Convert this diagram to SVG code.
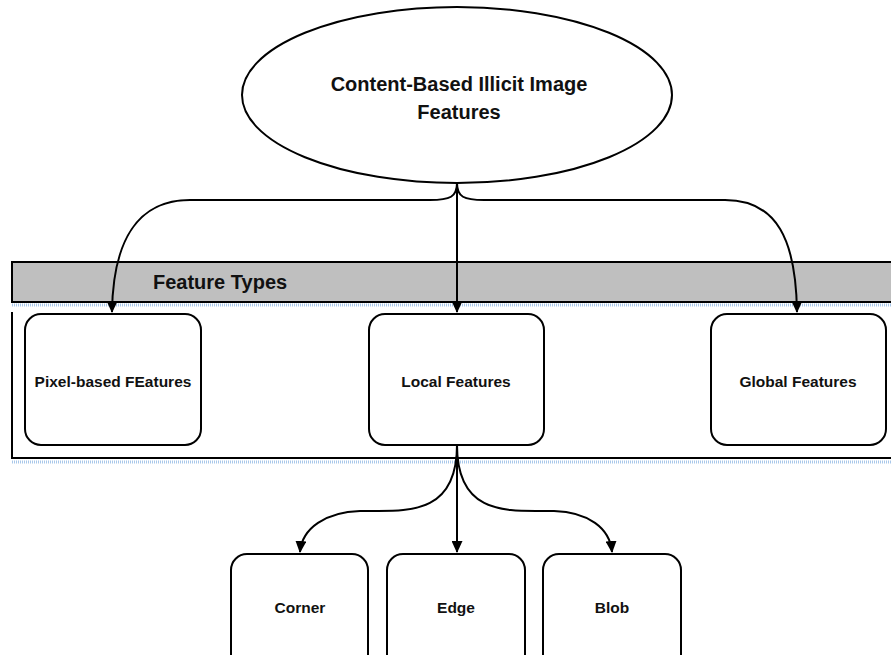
<svg xmlns="http://www.w3.org/2000/svg" width="891" height="655" viewBox="0 0 891 655">
<style>
.box{fill:#fff;stroke:#000;stroke-width:2}
.lbl{font-family:"Liberation Sans",Arial,sans-serif;font-weight:bold;fill:#111;text-anchor:middle}
.con{fill:none;stroke:#000;stroke-width:2}
.dot{stroke:#a9c8ea;stroke-width:3;stroke-dasharray:1 1}
</style>
<defs>
<marker id="ah" viewBox="0 0 12 11" refX="11" refY="5.5" markerWidth="6" markerHeight="5.5" orient="auto" markerUnits="strokeWidth">
<path d="M0,0 L12,5.5 L0,11 z" fill="#000"/>
</marker>
</defs>
<rect width="891" height="655" fill="#fff"/>
<g id="band">
<rect x="12" y="262" width="890" height="40" fill="#bfbfbf" stroke="#000" stroke-width="2"/>
<line class="dot" x1="12" y1="305" x2="891" y2="305"/>
<text class="lbl" x="153" y="289" font-size="20" style="text-anchor:start">Feature Types</text>
</g>
<g id="lane">
<path d="M12,312 L12,458 L891,458" fill="none" stroke="#000" stroke-width="2"/>
<line class="dot" x1="12" y1="462" x2="891" y2="462"/>
</g>
<g id="root">
<ellipse class="box" cx="457" cy="95" rx="215" ry="88" stroke-width="2.5"/>
<text class="lbl" x="459" y="91" font-size="20">Content-Based Illicit Image</text>
<text class="lbl" x="459" y="119" font-size="20">Features</text>
</g>
<g id="pixel">
<rect class="box" x="25" y="314" width="176" height="131" rx="16"/>
<text class="lbl" x="113" y="387" font-size="15.5">Pixel-based FEatures</text>
</g>
<g id="local">
<rect class="box" x="369" y="314" width="175" height="131" rx="16"/>
<text class="lbl" x="456" y="387" font-size="15.5">Local Features</text>
</g>
<g id="global">
<rect class="box" x="711" y="314" width="175" height="131" rx="16"/>
<text class="lbl" x="798" y="387" font-size="15.5">Global Features</text>
</g>
<g id="corner">
<rect class="box" x="231" y="554" width="137" height="120" rx="16"/>
<text class="lbl" x="300" y="613" font-size="15.5">Corner</text>
</g>
<g id="edge">
<rect class="box" x="387" y="554" width="138" height="120" rx="16"/>
<text class="lbl" x="456" y="613" font-size="15.5">Edge</text>
</g>
<g id="blob">
<rect class="box" x="543" y="554" width="138" height="120" rx="16"/>
<text class="lbl" x="612" y="613" font-size="15.5">Blob</text>
</g>
<g id="connectors">
<path class="con" d="M457,183 C457,197 450,200 430,200 L190,200 C138,200 113,240 112,312" marker-end="url(#ah)"/>
<path class="con" d="M457,183 L457,312" marker-end="url(#ah)"/>
<path class="con" d="M457,183 C457,197 464,200 484,200 L725,200 C777,200 796,240 797,312" marker-end="url(#ah)"/>
<path class="con" d="M457,445 L457,552" marker-end="url(#ah)"/>
<path class="con" d="M457,445 C457,520 400,510 360,511 C326,512 302,528 300,552" marker-end="url(#ah)"/>
<path class="con" d="M457,445 C457,520 514,510 554,511 C588,512 610,528 612,552" marker-end="url(#ah)"/>
</g>
</svg>
